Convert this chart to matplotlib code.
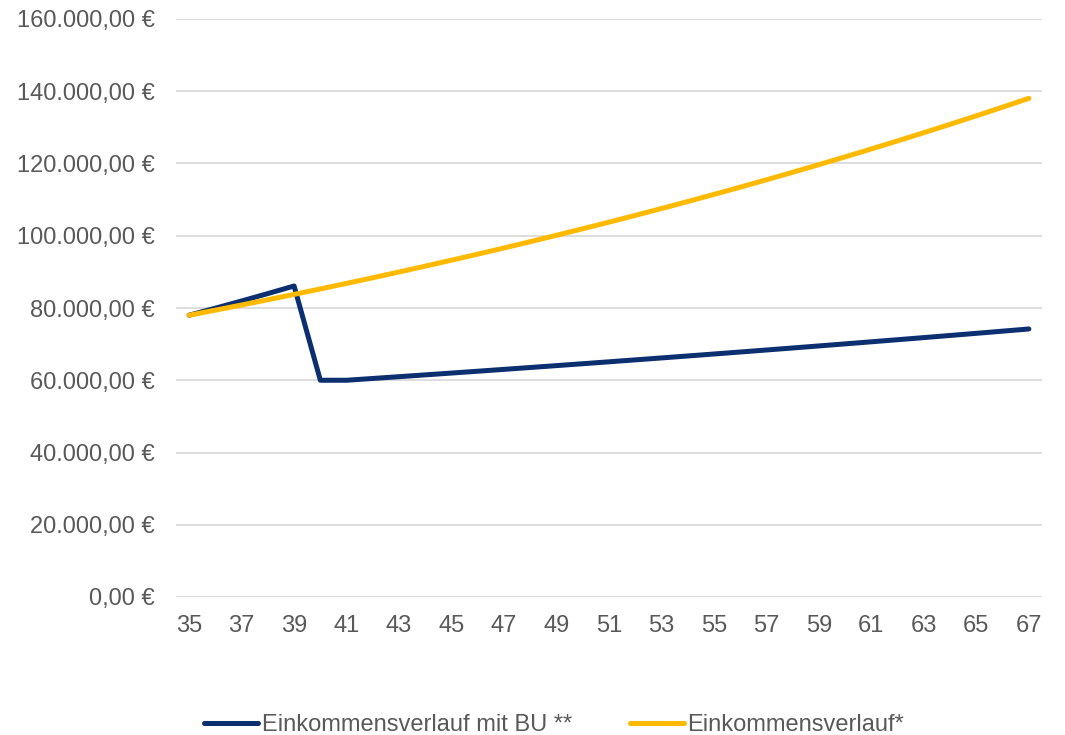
import matplotlib
matplotlib.use("Agg")
import matplotlib.pyplot as plt
from matplotlib.ticker import FuncFormatter

# Alter (Jahre)
ages = list(range(35, 68))

# Einkommensverlauf ohne Berufsunfähigkeit
income = [78000, 79404, 80833, 82288, 83769, 85277, 86812, 88375, 89966, 91585,
          93234, 94912, 96620, 98359, 100130, 101932, 103767, 105635, 107536,
          109472, 111442, 113448, 115490, 117569, 119685, 121840, 124033,
          126265, 128538, 130852, 133207, 135605, 138046]

# Einkommensverlauf mit Berufsunfähigkeit ab 40
income_bu = [78000, 79950, 81949, 83997, 86097,
             60000,
             60000, 60492, 60988, 61488, 61992, 62501, 63013, 63530, 64051,
             64576, 65106, 65640, 66178, 66720, 67267, 67819, 68375, 68936,
             69501, 70071, 70646, 71225, 71809, 72398, 72991, 73590, 74193]

series_labels = ["Einkommensverlauf mit BU **", "Einkommensverlauf*"]
x_ticks = list(range(35, 68, 2))
y_ticks = list(range(0, 160001, 20000))

plt.rcParams["font.family"] = ["Liberation Sans", "DejaVu Sans"]

fig = plt.figure(figsize=(10.65, 7.35), dpi=100)
ax = fig.add_axes([176 / 1065, 1 - 597 / 735, (1042 - 176) / 1065, (597 - 19) / 735])

navy = "#0B2F6F"
gold = "#FFBA00"

ax.plot(ages, income_bu, color=navy, lw=3.6, solid_capstyle="round",
        solid_joinstyle="round", label=series_labels[0], zorder=3)
ax.plot(ages, income, color=gold, lw=3.6, solid_capstyle="round",
        solid_joinstyle="round", label=series_labels[1], zorder=4)

ax.set_xlim(34.5, 67.5)
ax.set_ylim(0, 160000)
ax.set_xticks(x_ticks)
ax.set_yticks(y_ticks)


def euro(v, _pos):
    s = f"{v:,.2f}".replace(",", "X").replace(".", ",").replace("X", ".")
    return s + " €"


ax.yaxis.set_major_formatter(FuncFormatter(euro))
ax.grid(axis="y", color="#DDDDDD", lw=1.4)
ax.set_axisbelow(True)
for sp in ax.spines.values():
    sp.set_visible(False)
ax.tick_params(axis="both", length=0, labelsize=17, labelcolor="#595959")
ax.tick_params(axis="x", pad=13)
ax.tick_params(axis="y", pad=15)

fig.legend(loc="center", bbox_to_anchor=(554 / 1065, 10 / 735), ncol=2,
           frameon=False, fontsize=17, handlelength=2.3, handletextpad=0.15,
           columnspacing=2.45, labelcolor="#595959")

fig.savefig("out.png", dpi=100)
